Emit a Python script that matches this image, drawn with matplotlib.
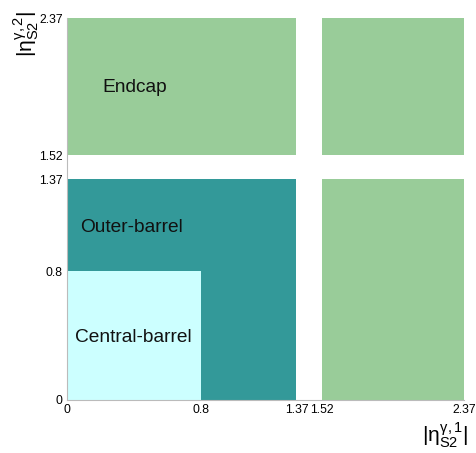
import matplotlib
matplotlib.use("Agg")
import matplotlib.pyplot as plt
from matplotlib.patches import Rectangle

plt.rcParams.update({
    "font.family": ["Liberation Sans", "DejaVu Sans"],
    "mathtext.fontset": "custom",
    "mathtext.rm": "Liberation Sans",
    "mathtext.it": "Liberation Sans",
    "mathtext.sf": "Liberation Sans",
})

# regions: (label, x0, x1, y0, y1, colour)
region_names = ["Endcap", "Endcap", "Endcap", "Outer-barrel", "Central-barrel"]
region_x0 = [0.0, 1.52, 1.52, 0.0, 0.0]
region_x1 = [1.37, 2.37, 2.37, 1.37, 0.8]
region_y0 = [1.52, 1.52, 0.0, 0.0, 0.0]
region_y1 = [2.37, 2.37, 1.37, 1.37, 0.8]
region_colors = ["#99cc99", "#99cc99", "#99cc99", "#339999", "#ccffff"]

tick_values = [0, 0.8, 1.37, 1.52, 2.37]
tick_labels = ["0", "0.8", "1.37", "1.52", "2.37"]

# text labels: (text, x, y)
label_texts = ["Endcap", "Outer-barrel", "Central-barrel"]
label_x = [0.21, 0.08, 0.05]
label_y = [1.94, 1.07, 0.385]

fig = plt.figure(figsize=(4.76, 4.53), dpi=100)
ax = fig.add_axes([67 / 476, 53 / 453, 397 / 476, 382 / 453])

for x0, x1, y0, y1, c in zip(region_x0, region_x1, region_y0, region_y1, region_colors):
    ax.add_patch(Rectangle((x0, y0), x1 - x0, y1 - y0, facecolor=c, edgecolor="none", zorder=1))

for t, x, y in zip(label_texts, label_x, label_y):
    ax.text(x, y, t, ha="left", va="center", fontsize=13.8, color="#111111", zorder=3)

ax.set_xlim(0, 2.37)
ax.set_ylim(0, 2.37)
ax.set_xticks(tick_values)
ax.set_xticklabels(tick_labels)
ax.set_yticks(tick_values)
ax.set_yticklabels(tick_labels)
ax.tick_params(axis="both", length=0, labelsize=8.8, pad=3)

for side in ["top", "right"]:
    ax.spines[side].set_visible(False)
for side in ["left", "bottom"]:
    ax.spines[side].set_color("#bbbbbb")
    ax.spines[side].set_linewidth(0.8)

fig.text(26 / 476, 1 - 34 / 453, r"$|\eta^{\gamma,2}_{S2}|$", rotation=90,
         ha="center", va="center", fontsize=15)
fig.text(445 / 476, 1 - 435 / 453, r"$|\eta^{\gamma,1}_{S2}|$",
         ha="center", va="center", fontsize=15)

fig.savefig("out.png", dpi=100, facecolor="white")
